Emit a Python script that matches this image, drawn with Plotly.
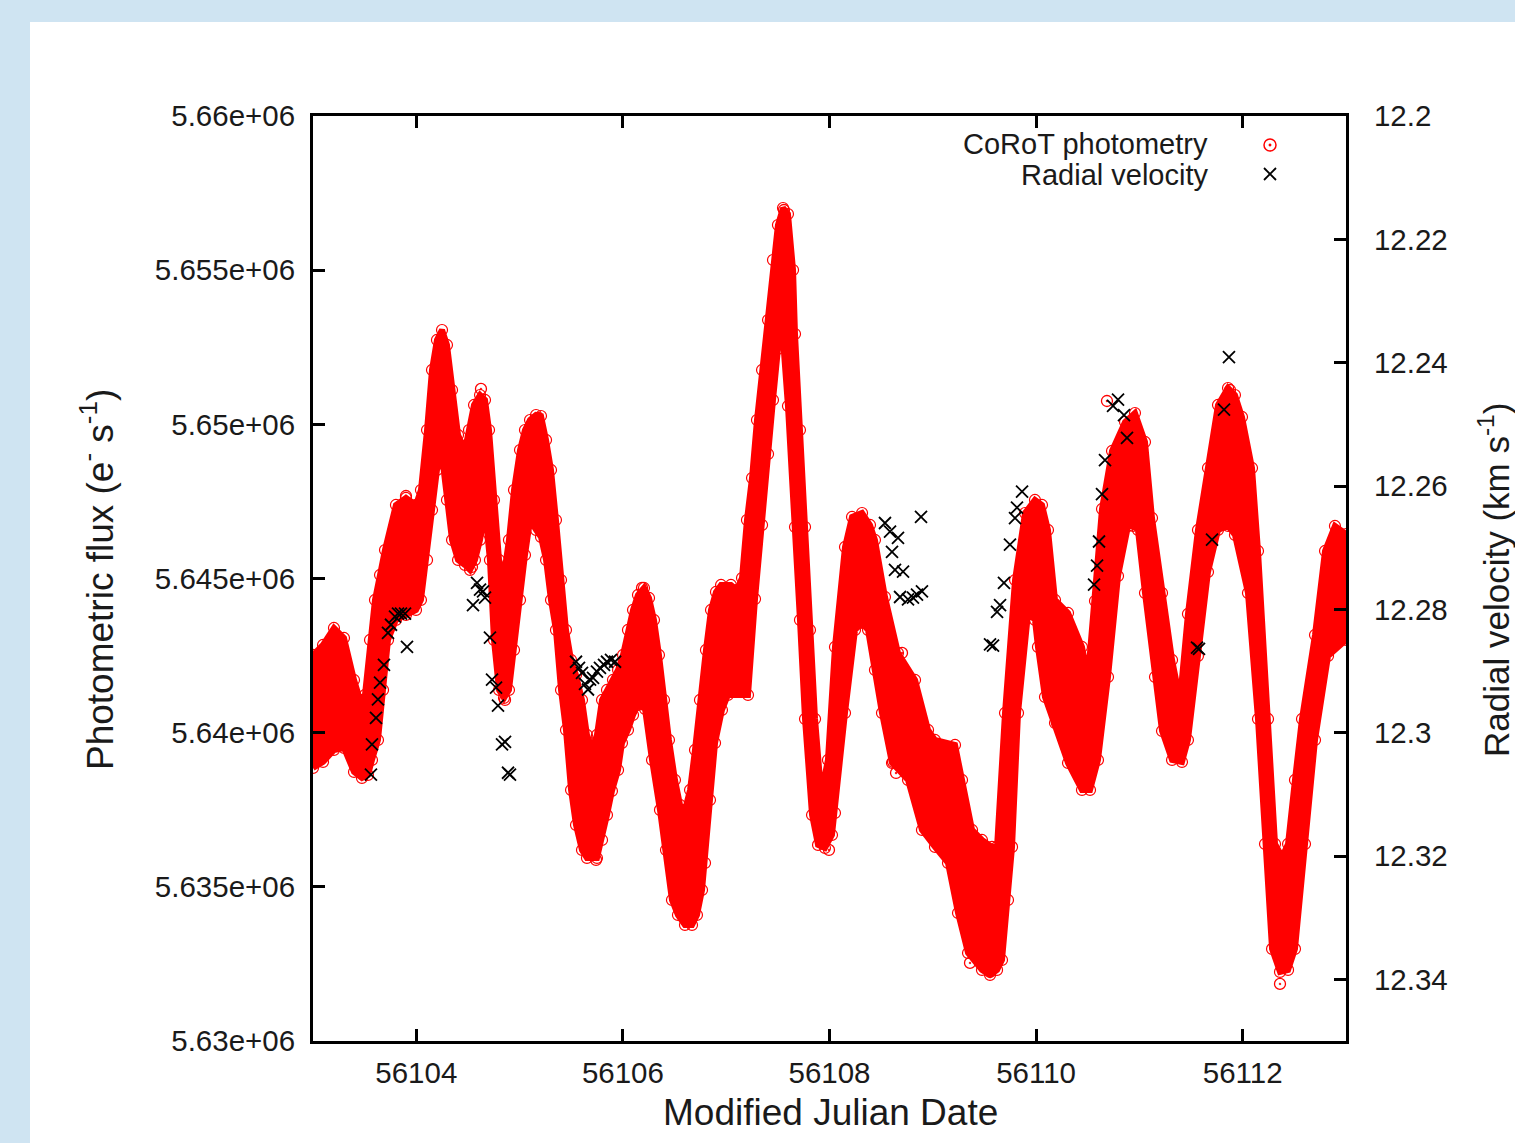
import plotly.graph_objects as go

# ---------------- data ----------------
# CoRoT photometry: upper and lower edges of the dense point cloud
upper_mjd = [56103.000, 56103.097, 56103.203, 56103.300, 56103.397, 56103.455, 56103.503, 56103.552,
             56103.600, 56103.649, 56103.697, 56103.803, 56103.900, 56103.997, 56104.045, 56104.104,
             56104.152, 56104.200, 56104.249, 56104.297, 56104.346, 56104.404, 56104.471, 56104.510,
             56104.559, 56104.617, 56104.665, 56104.704, 56104.752, 56104.801, 56104.849, 56104.897,
             56104.946, 56105.004, 56105.052, 56105.101, 56105.159, 56105.207, 56105.256, 56105.304,
             56105.352, 56105.401, 56105.449, 56105.498, 56105.546, 56105.604, 56105.652, 56105.701,
             56105.749, 56105.798, 56105.846, 56105.904, 56105.953, 56106.001, 56106.049, 56106.098,
             56106.146, 56106.204, 56106.253, 56106.301, 56106.349, 56106.398, 56106.446, 56106.504,
             56106.553, 56106.601, 56106.650, 56106.698, 56106.746, 56106.804, 56106.853, 56106.901,
             56106.950, 56107.046, 56107.105, 56107.153, 56107.201, 56107.250, 56107.298, 56107.347,
             56107.405, 56107.453, 56107.501, 56107.550, 56107.598, 56107.647, 56107.666, 56107.714,
             56107.763, 56107.811, 56107.860, 56107.908, 56107.927, 56107.985, 56108.053, 56108.150,
             56108.218, 56108.315, 56108.392, 56108.440, 56108.537, 56108.663, 56108.828, 56108.954,
             56109.021, 56109.215, 56109.283, 56109.380, 56109.476, 56109.573, 56109.622, 56109.699,
             56109.796, 56109.893, 56109.989, 56110.057, 56110.115, 56110.183, 56110.309, 56110.444,
             56110.502, 56110.570, 56110.638, 56110.735, 56110.861, 56110.957, 56111.054, 56111.122,
             56111.219, 56111.316, 56111.393, 56111.470, 56111.567, 56111.664, 56111.761, 56111.858,
             56111.925, 56111.993, 56112.090, 56112.148, 56112.245, 56112.313, 56112.381, 56112.439,
             56112.506, 56112.574, 56112.700, 56112.797, 56112.893, 56113.000]
upper_flux = [5642520, 5642845, 5643396, 5643072, 5641709, 5641061, 5641223, 5643007,
              5644304, 5645115, 5645925, 5647385, 5647612, 5647385, 5647871, 5649817,
              5651763, 5652736, 5653060, 5652574, 5651114, 5649655, 5649168, 5649817,
              5650628, 5650952, 5650790, 5649817, 5647547, 5645601, 5645115, 5646250,
              5647871, 5649168, 5649817, 5650141, 5650303, 5650271, 5649493, 5648520,
              5646898, 5644952, 5643331, 5642358, 5641872, 5641061, 5639926, 5639504,
              5639926, 5641061, 5641385, 5641709, 5642034, 5642520, 5643331, 5643980,
              5644466, 5644693, 5644369, 5643655, 5642520, 5641061, 5639764, 5638466,
              5637656, 5637494, 5638142, 5639439, 5641061, 5642682, 5643980, 5644563,
              5644790, 5644790, 5644628, 5645017, 5646898, 5648260, 5650141, 5651763,
              5653384, 5655330, 5656465, 5657016, 5656822, 5655006, 5652930, 5649817,
              5646671, 5643331, 5640445, 5638466, 5638142, 5639115, 5642780, 5646023,
              5646996, 5647125, 5646736, 5646250, 5644401, 5642585, 5641709, 5640088,
              5639764, 5639602, 5638466, 5636845, 5636521, 5636294, 5636294, 5640639,
              5644952, 5647125, 5647547, 5647385, 5646574, 5644304, 5643882, 5642780,
              5641807, 5644271, 5647255, 5649136, 5650076, 5650368, 5649428, 5646963,
              5644531, 5642358, 5641061, 5643850, 5646574, 5648585, 5650628, 5651179,
              5650952, 5650239, 5648585, 5645893, 5640445, 5636391, 5635969, 5636391,
              5638466, 5640445, 5643169, 5645893, 5646704, 5646444]

lower_mjd = [56103.000, 56103.097, 56103.203, 56103.300, 56103.397, 56103.474, 56103.532, 56103.571,
             56103.629, 56103.678, 56103.726, 56103.803, 56103.900, 56103.997, 56104.045, 56104.104,
             56104.152, 56104.200, 56104.249, 56104.297, 56104.346, 56104.404, 56104.471, 56104.520,
             56104.568, 56104.617, 56104.665, 56104.713, 56104.752, 56104.801, 56104.849, 56104.897,
             56104.946, 56105.004, 56105.052, 56105.101, 56105.159, 56105.207, 56105.256, 56105.304,
             56105.352, 56105.401, 56105.449, 56105.498, 56105.546, 56105.604, 56105.652, 56105.749,
             56105.798, 56105.846, 56105.894, 56105.953, 56105.991, 56106.049, 56106.098, 56106.146,
             56106.214, 56106.282, 56106.359, 56106.417, 56106.475, 56106.533, 56106.601, 56106.669,
             56106.717, 56106.766, 56106.795, 56106.843, 56106.892, 56106.959, 56107.017, 56107.211,
             56107.279, 56107.347, 56107.405, 56107.453, 56107.501, 56107.550, 56107.598, 56107.666,
             56107.714, 56107.763, 56107.831, 56107.889, 56107.956, 56108.024, 56108.053, 56108.150,
             56108.247, 56108.315, 56108.373, 56108.440, 56108.508, 56108.605, 56108.760, 56108.895,
             56109.021, 56109.147, 56109.244, 56109.341, 56109.476, 56109.554, 56109.622, 56109.670,
             56109.728, 56109.767, 56109.825, 56109.922, 56109.989, 56110.018, 56110.086, 56110.183,
             56110.309, 56110.444, 56110.522, 56110.599, 56110.696, 56110.793, 56110.890, 56110.938,
             56110.986, 56111.054, 56111.151, 56111.219, 56111.316, 56111.412, 56111.470, 56111.567,
             56111.664, 56111.761, 56111.858, 56111.925, 56112.051, 56112.148, 56112.216, 56112.284,
             56112.361, 56112.439, 56112.506, 56112.603, 56112.700, 56112.826, 56113.000]
lower_flux = [5638856, 5639050, 5639439, 5639504, 5638726, 5638531, 5638629, 5639115,
              5639764, 5641385, 5643007, 5643655, 5643817, 5643980, 5644304, 5645601,
              5647223, 5648520, 5648974, 5647547, 5646250, 5645601, 5645439, 5645277,
              5645601, 5646250, 5647223, 5645601, 5643007, 5641385, 5641126, 5641385,
              5642682, 5644304, 5645763, 5646898, 5646574, 5646347, 5645601, 5644304,
              5643331, 5641385, 5640088, 5638142, 5637007, 5636196, 5635937, 5635937,
              5636521, 5637331, 5638110, 5638791, 5639666, 5640088, 5640574, 5640899,
              5640769, 5639115, 5637494, 5636196, 5634575, 5634088, 5633764, 5633764,
              5634088, 5634899, 5635775, 5637818, 5639666, 5640737, 5641223, 5641223,
              5644336, 5646736, 5649039, 5650790, 5652444, 5652768, 5650595, 5646671,
              5643655, 5640445, 5637331, 5636359, 5636261, 5636683, 5637396, 5640639,
              5643331, 5643558, 5643331, 5642034, 5640639, 5639018, 5638466, 5636845,
              5636294, 5635775, 5634153, 5632856, 5632305, 5632143, 5632305, 5632629,
              5634575, 5636294, 5640639, 5643882, 5643655, 5642780, 5641158, 5640315,
              5639018, 5638142, 5638142, 5639115, 5641807, 5645082, 5646704, 5646704,
              5646574, 5644531, 5641807, 5640056, 5639115, 5639050, 5639764, 5642488,
              5645212, 5646574, 5646704, 5646412, 5644531, 5640445, 5636391, 5632986,
              5632240, 5632305, 5632986, 5636391, 5639764, 5642488, 5643007]

# isolated photometry points standing out of the cloud
outlier_mjd = [56103.900, 56104.520, 56104.539, 56104.626, 56104.859, 56105.178, 56105.740,
               56106.185, 56106.620, 56107.559, 56107.995, 56108.276, 56108.615, 56108.644,
               56108.702, 56109.360, 56109.554, 56110.202, 56110.686, 56111.877, 56112.361]
outlier_flux = [5647676, 5645731, 5645374, 5651147, 5641061, 5650206, 5635872,
                5644693, 5633861, 5656952, 5636196, 5646931, 5639050, 5638693,
                5642585, 5632532, 5632240, 5640315, 5650757, 5651114, 5631851]

# Radial velocities (right axis, km/s)
rv_mjd = [56103.561, 56103.571, 56103.610, 56103.629, 56103.649, 56103.687, 56103.726, 56103.755,
          56103.794, 56103.823, 56103.852, 56103.891, 56103.910,
          56104.549, 56104.588, 56104.617, 56104.646, 56104.665, 56104.713, 56104.733, 56104.772,
          56104.791, 56104.830, 56104.859, 56104.888, 56104.907,
          56105.546, 56105.575, 56105.604, 56105.633, 56105.662, 56105.682, 56105.711, 56105.749,
          56105.778, 56105.817, 56105.846, 56105.885, 56105.924,
          56108.537, 56108.586, 56108.663, 56108.605, 56108.634, 56108.712, 56108.683, 56108.760,
          56108.808, 56108.847, 56108.895, 56108.886,
          56109.554, 56109.583, 56109.622, 56109.651, 56109.689, 56109.747, 56109.796, 56109.815,
          56109.864,
          56110.561, 56110.590, 56110.609, 56110.638, 56110.667, 56110.745, 56110.793, 56110.851,
          56110.880,
          56111.558, 56111.577, 56111.703, 56111.819, 56111.867]
rv_kms = [12.3068, 12.3019, 12.2976, 12.2946, 12.2919, 12.2890, 12.2838, 12.2825,
          12.2812, 12.2807, 12.2807, 12.2807, 12.2861,
          12.2793, 12.2757, 12.2768, 12.2771, 12.2781, 12.2846, 12.2914, 12.2927,
          12.2956, 12.3019, 12.3015, 12.3065, 12.3068,
          12.2885, 12.2895, 12.2903, 12.2921, 12.2930, 12.2914, 12.2911, 12.2901,
          12.2895, 12.2890, 12.2885, 12.2882, 12.2885,
          12.2660, 12.2674, 12.2684, 12.2707, 12.2736, 12.2739, 12.2780, 12.2784,
          12.2781, 12.2776, 12.2771, 12.2650,
          12.2857, 12.2859, 12.2804, 12.2793, 12.2757, 12.2695, 12.2652, 12.2635,
          12.2609,
          12.2760, 12.2729, 12.2690, 12.2613, 12.2558, 12.2470, 12.2460, 12.2485,
          12.2522,
          12.2862, 12.2864, 12.2687, 12.2476, 12.2391]

# axes
mjd_ticks = [56104, 56106, 56108, 56110, 56112]
mjd_ticktext = ["56104", "56106", "56108", "56110", "56112"]
flux_ticks = [5630000, 5635000, 5640000, 5645000, 5650000, 5655000, 5660000]
flux_ticktext = ["5.63e+06", "5.635e+06", "5.64e+06", "5.645e+06", "5.65e+06", "5.655e+06", "5.66e+06"]
rv_ticks = [12.2, 12.22, 12.24, 12.26, 12.28, 12.3, 12.32, 12.34]
rv_ticktext = ["12.2", "12.22", "12.24", "12.26", "12.28", "12.3", "12.32", "12.34"]

# ---------------- figure ----------------
RED = "#ff0000"
TXT = "#1a1a1a"
FONT = "Liberation Sans, Arial, Helvetica, sans-serif"
TICK_SIZE = 29.5
TITLE_SIZE = 37

fig = go.Figure()

band_x = upper_mjd + lower_mjd[::-1]
band_y = upper_flux + lower_flux[::-1]
fig.add_trace(go.Scatter(
    x=band_x, y=band_y, name="CoRoT photometry", mode="lines+markers",
    fill="toself", fillcolor=RED,
    line=dict(color=RED, width=6, shape="linear"),
    marker=dict(symbol="circle-open", size=11, color=RED, line=dict(width=1.2, color=RED)),
    showlegend=False, hoverinfo="skip"))

fig.add_trace(go.Scatter(
    x=outlier_mjd, y=outlier_flux, name="CoRoT photometry", mode="markers",
    marker=dict(symbol="circle-open-dot", size=11, color=RED, line=dict(width=1.3, color=RED)),
    showlegend=False))

fig.add_trace(go.Scatter(
    x=rv_mjd, y=rv_kms, name="Radial velocity", mode="markers", yaxis="y2",
    marker=dict(symbol="x-thin", size=12, color="black", line=dict(width=1.8, color="black")),
    showlegend=False))

W, H = 1515, 1143
L, R, T, B = 313, 169, 116, 102
pw, ph = W - L - R, H - T - B


def px(x):
    return (x - L) / pw


def py(y):
    return (H - B - y) / ph


axis_common = dict(showline=True, linecolor="black", linewidth=3, ticks="inside",
                   ticklen=12, tickwidth=2.5, tickcolor="black", showgrid=False,
                   zeroline=False, tickfont=dict(family=FONT, size=TICK_SIZE, color=TXT))

fig.update_layout(
    width=W, height=H, autosize=False,
    margin=dict(l=L, r=R, t=T, b=B, pad=0),
    paper_bgcolor="#cfe4f2", plot_bgcolor="rgba(0,0,0,0)",
    showlegend=False,
    xaxis=dict(range=[56103, 56113], tickvals=mjd_ticks, ticktext=mjd_ticktext,
               mirror="ticks", ticklabelstandoff=4, **axis_common),
    yaxis=dict(range=[5630000, 5660000], tickvals=flux_ticks, ticktext=flux_ticktext,
               mirror=True, ticklabelstandoff=9, **axis_common),
    yaxis2=dict(range=[12.35, 12.2], tickvals=rv_ticks, ticktext=rv_ticktext,
                overlaying="y", side="right", ticklabelstandoff=19, **axis_common),
    shapes=[
        dict(type="rect", xref="paper", yref="paper", x0=px(30), x1=px(1530),
             y0=py(1160), y1=py(22), fillcolor="white", line=dict(width=0), layer="below"),
        # legend symbols
        dict(type="circle", xref="paper", yref="paper", xsizemode="pixel", ysizemode="pixel",
             xanchor=px(1270), yanchor=py(145), x0=-6, x1=6, y0=-6, y1=6,
             line=dict(color=RED, width=1.5)),
        dict(type="circle", xref="paper", yref="paper", xsizemode="pixel", ysizemode="pixel",
             xanchor=px(1270), yanchor=py(145), x0=-1.2, x1=1.2, y0=-1.2, y1=1.2,
             fillcolor=RED, line=dict(color=RED, width=0.5)),
        dict(type="line", xref="paper", yref="paper", xsizemode="pixel", ysizemode="pixel",
             xanchor=px(1270), yanchor=py(174), x0=-6, x1=6, y0=-6, y1=6,
             line=dict(color="black", width=1.8)),
        dict(type="line", xref="paper", yref="paper", xsizemode="pixel", ysizemode="pixel",
             xanchor=px(1270), yanchor=py(174), x0=-6, x1=6, y0=6, y1=-6,
             line=dict(color="black", width=1.8)),
    ],
    annotations=[
        dict(text="Modified Julian Date", xref="paper", yref="paper", x=px(830), y=py(1112),
             showarrow=False, xanchor="center", yanchor="middle",
             font=dict(family=FONT, size=TITLE_SIZE, color=TXT)),
        dict(text="Photometric flux (e<sup>-</sup> s<sup>-1</sup>)", xref="paper", yref="paper",
             x=px(97), y=py(580), textangle=-90, showarrow=False, xanchor="center",
             yanchor="middle", font=dict(family=FONT, size=TITLE_SIZE, color=TXT)),
        dict(text="Radial velocity (km s<sup>-1</sup>)", xref="paper", yref="paper",
             x=px(1494), y=py(580), textangle=-90, showarrow=False, xanchor="center",
             yanchor="middle", font=dict(family=FONT, size=TITLE_SIZE - 2, color=TXT)),
        dict(text="CoRoT photometry", xref="paper", yref="paper", x=px(1210), y=py(144),
             showarrow=False, xanchor="right", yanchor="middle",
             font=dict(family=FONT, size=29, color=TXT)),
        dict(text="Radial velocity", xref="paper", yref="paper", x=px(1210), y=py(175),
             showarrow=False, xanchor="right", yanchor="middle",
             font=dict(family=FONT, size=29, color=TXT)),
    ],
)

fig.write_html("out.html",
               config={"displayModeBar": False},
               post_script="document.body.style.margin='0px';"
                           "document.body.style.overflow='hidden';")
